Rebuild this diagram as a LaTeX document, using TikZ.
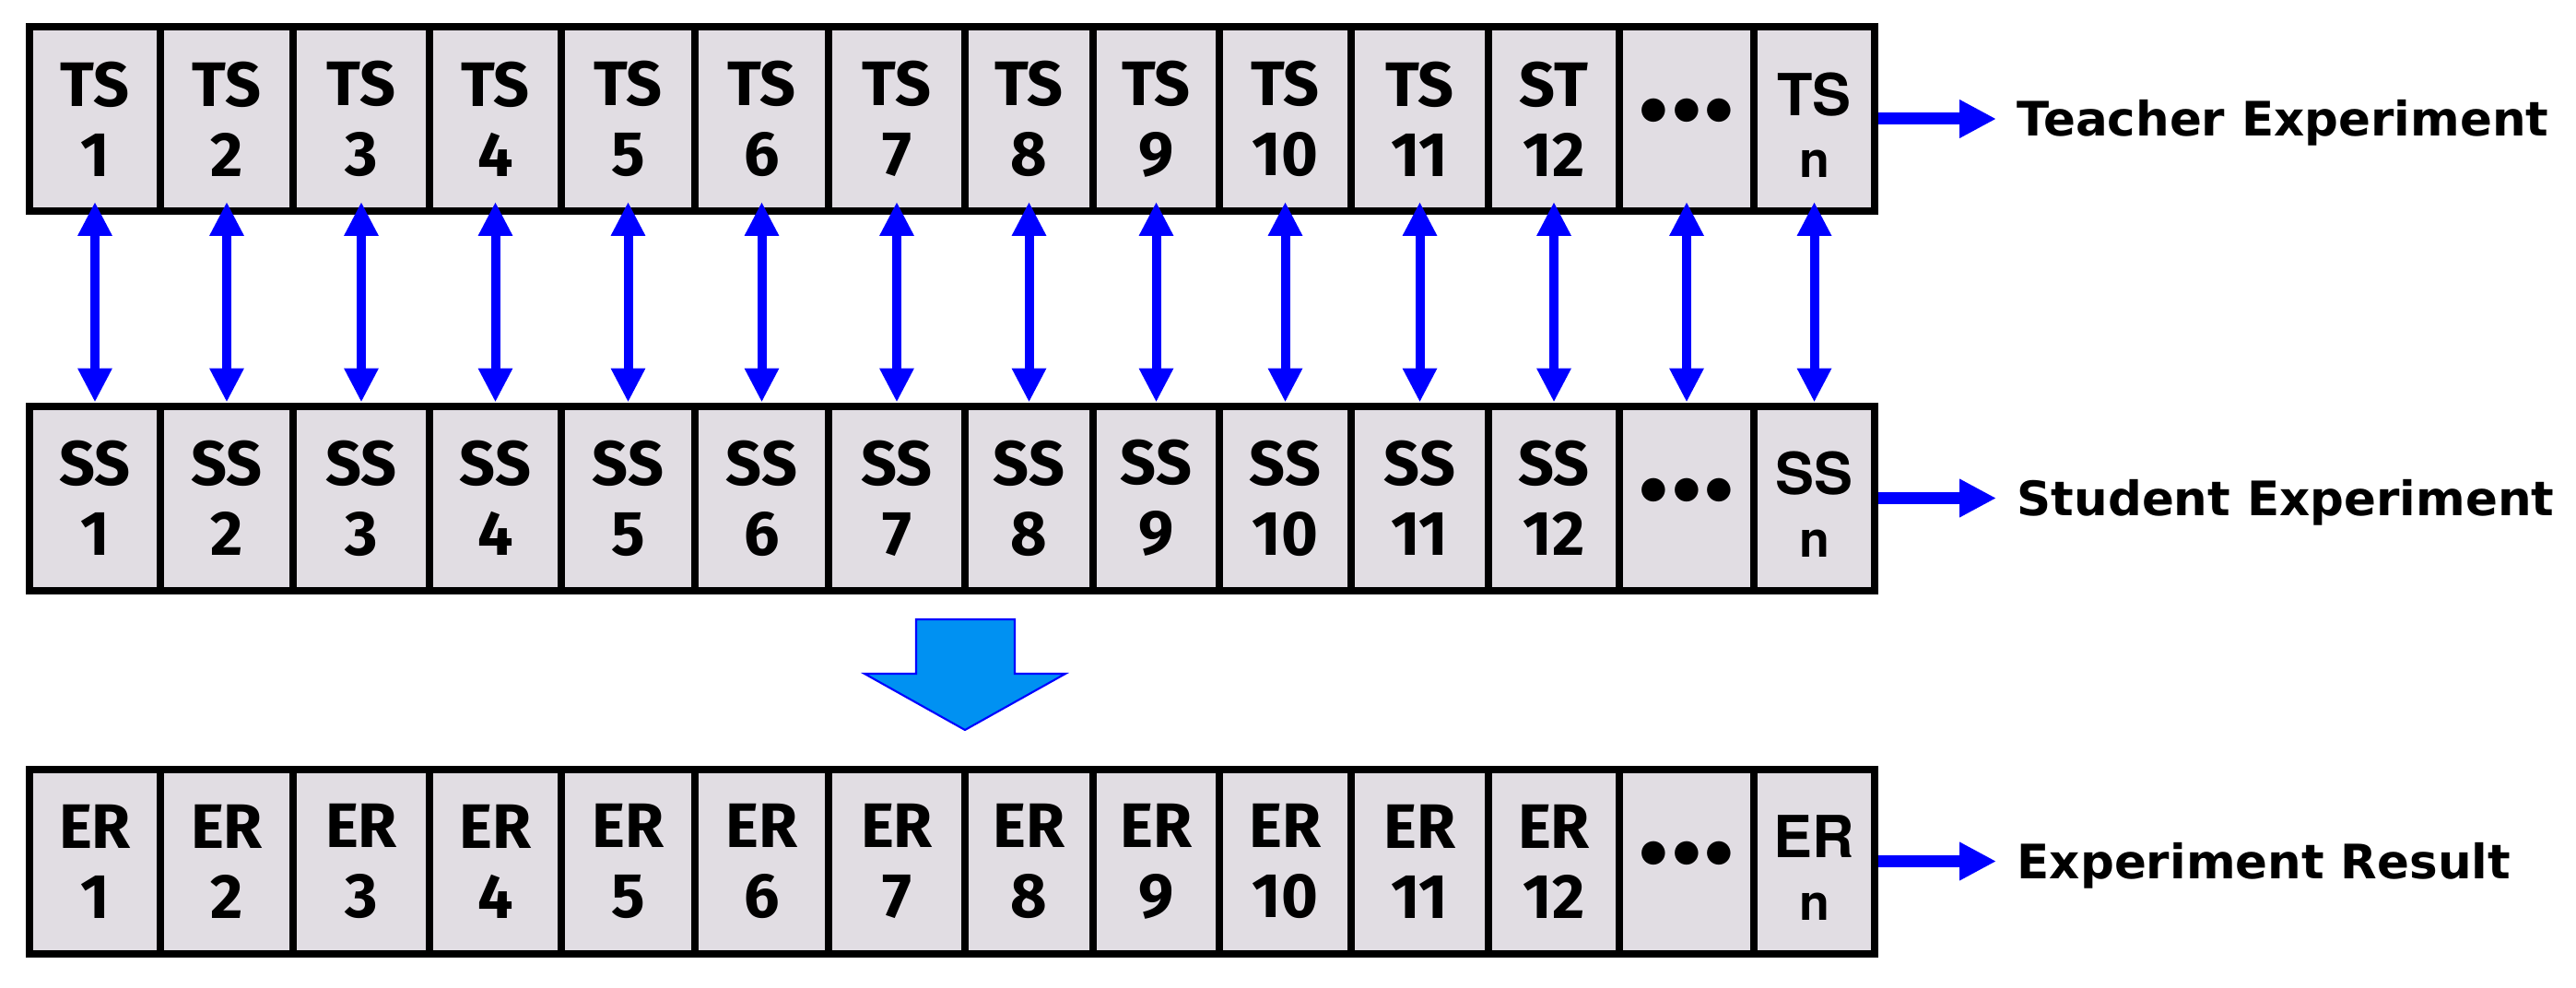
\documentclass[tikz,border=0pt]{standalone}
\usepackage{fontspec}
\setmainfont{Liberation Sans}
\newfontfamily\cellfont{Fira Sans}
\newfontfamily\labfont{DejaVu Sans}
\newfontfamily\nfont{TeX Gyre Heros}
\usetikzlibrary{arrows.meta,positioning}
\definecolor{cellfill}{HTML}{E1DDE3}
\definecolor{linkblue}{HTML}{0000FF}
\definecolor{bigblue}{HTML}{0091F2}
\tikzset{
  cell/.style={draw=black, line width=0.08cm, fill=cellfill, minimum height=2cm,
    inner sep=0pt, align=center, font=\cellfont\bfseries\fontsize{19.4}{21.6}\selectfont},
  ncell/.style={cell, font=\nfont\bfseries\fontsize{17.9}{19.3}\selectfont},
  dotcell/.style={cell, font=\nfont\bfseries\fontsize{29}{30}\selectfont},
  dbl/.style={linkblue, line width=0.10cm, shorten <=-0.14cm,
    {Triangle[width=0.35cm,length=0.37cm]}-{Triangle[width=0.35cm,length=0.37cm]}},
  outarrow/.style={linkblue, line width=0.13cm, -{Triangle[width=0.39cm,length=0.40cm]}},
  lab/.style={font=\labfont\bfseries\fontsize{14.66}{17}\selectfont, inner sep=0pt,
    text height=0.37cm, text depth=0cm, anchor=west},
  bigarrow/.style={fill=bigblue, draw=linkblue, line width=0.6pt, line join=miter}
}

\begin{document}
\begin{tikzpicture}
  \useasboundingbox[fill=white] (0,0) rectangle (27.95,-10.71);

  % row centres: teacher, student, result
  \def\yT{-1.29}
  \def\yS{-5.405}
  \def\yE{-9.345}

  % cells 1..11 of every row
  \foreach \i/\a/\b in {1/0.32/1.74, 2/1.74/3.18, 3/3.18/4.66, 4/4.66/6.09,
      5/6.09/7.54, 6/7.54/8.99, 7/8.99/10.47, 8/10.47/11.86, 9/11.86/13.23,
      10/13.23/14.66, 11/14.66/16.15}{
    \node[cell, minimum width={(\b-\a)*1cm}] (t\i) at ({(\a+\b)/2},\yT) {TS\\\i};
    \node[cell, minimum width={(\b-\a)*1cm}] (s\i) at ({(\a+\b)/2},\yS) {SS\\\i};
    \node[cell, minimum width={(\b-\a)*1cm}] (e\i) at ({(\a+\b)/2},\yE) {ER\\\i};
  }

  % cell 12, the dots and the n-th cell
  \node[cell, minimum width=1.42cm] (t12) at (16.86,\yT) {ST\\12};
  \node[cell, minimum width=1.42cm] (s12) at (16.86,\yS) {SS\\12};
  \node[cell, minimum width=1.42cm] (e12) at (16.86,\yE) {ER\\12};
  \node[dotcell, minimum width=1.46cm] (tdots) at (18.30,\yT) {•••};
  \node[dotcell, minimum width=1.46cm] (sdots) at (18.30,\yS) {•••};
  \node[dotcell, minimum width=1.46cm] (edots) at (18.30,\yE) {•••};
  \node[ncell, minimum width=1.31cm] (tn) at (19.685,\yT)
    {\rule{0pt}{0.6cm}TS\\{\fontsize{15.3}{18}\selectfont n}};
  \node[ncell, minimum width=1.31cm] (sn) at (19.685,\yS)
    {\rule{0pt}{0.6cm}SS\\{\fontsize{15.3}{18}\selectfont n}};
  \node[ncell, minimum width=1.31cm] (en) at (19.685,\yE)
    {\rule{0pt}{0.6cm}ER\\{\fontsize{15.3}{18}\selectfont n}};

  % teacher <-> student links
  \foreach \i in {1,2,3,4,5,6,7,8,9,10,11,12,dots,n}
    \draw[dbl] (t\i.south) -- (s\i.north);

  % outputs
  \coordinate (tend) at ([xshift=1.28cm]tn.east);
  \coordinate (send) at ([xshift=1.28cm]sn.east);
  \coordinate (eend) at ([xshift=1.28cm]en.east);
  \draw[outarrow] (tn.east) -- (tend);
  \draw[outarrow] (sn.east) -- (send);
  \draw[outarrow] (en.east) -- (eend);
  \node[lab] (tlab) at ([xshift=0.22cm]tend) {Teacher Experiment};
  \node[lab] (slab) at ([xshift=0.22cm]send) {Student Experiment};
  \node[lab] (elab) at ([xshift=0.22cm]eend) {Experiment Result};

  % big arrow down to the results
  \draw[bigarrow] (9.94,-6.72) -- (11.01,-6.72) -- (11.01,-7.31) -- (11.56,-7.31)
    -- (10.47,-7.92) -- (9.38,-7.31) -- (9.94,-7.31) -- cycle;
\end{tikzpicture}
\end{document}
